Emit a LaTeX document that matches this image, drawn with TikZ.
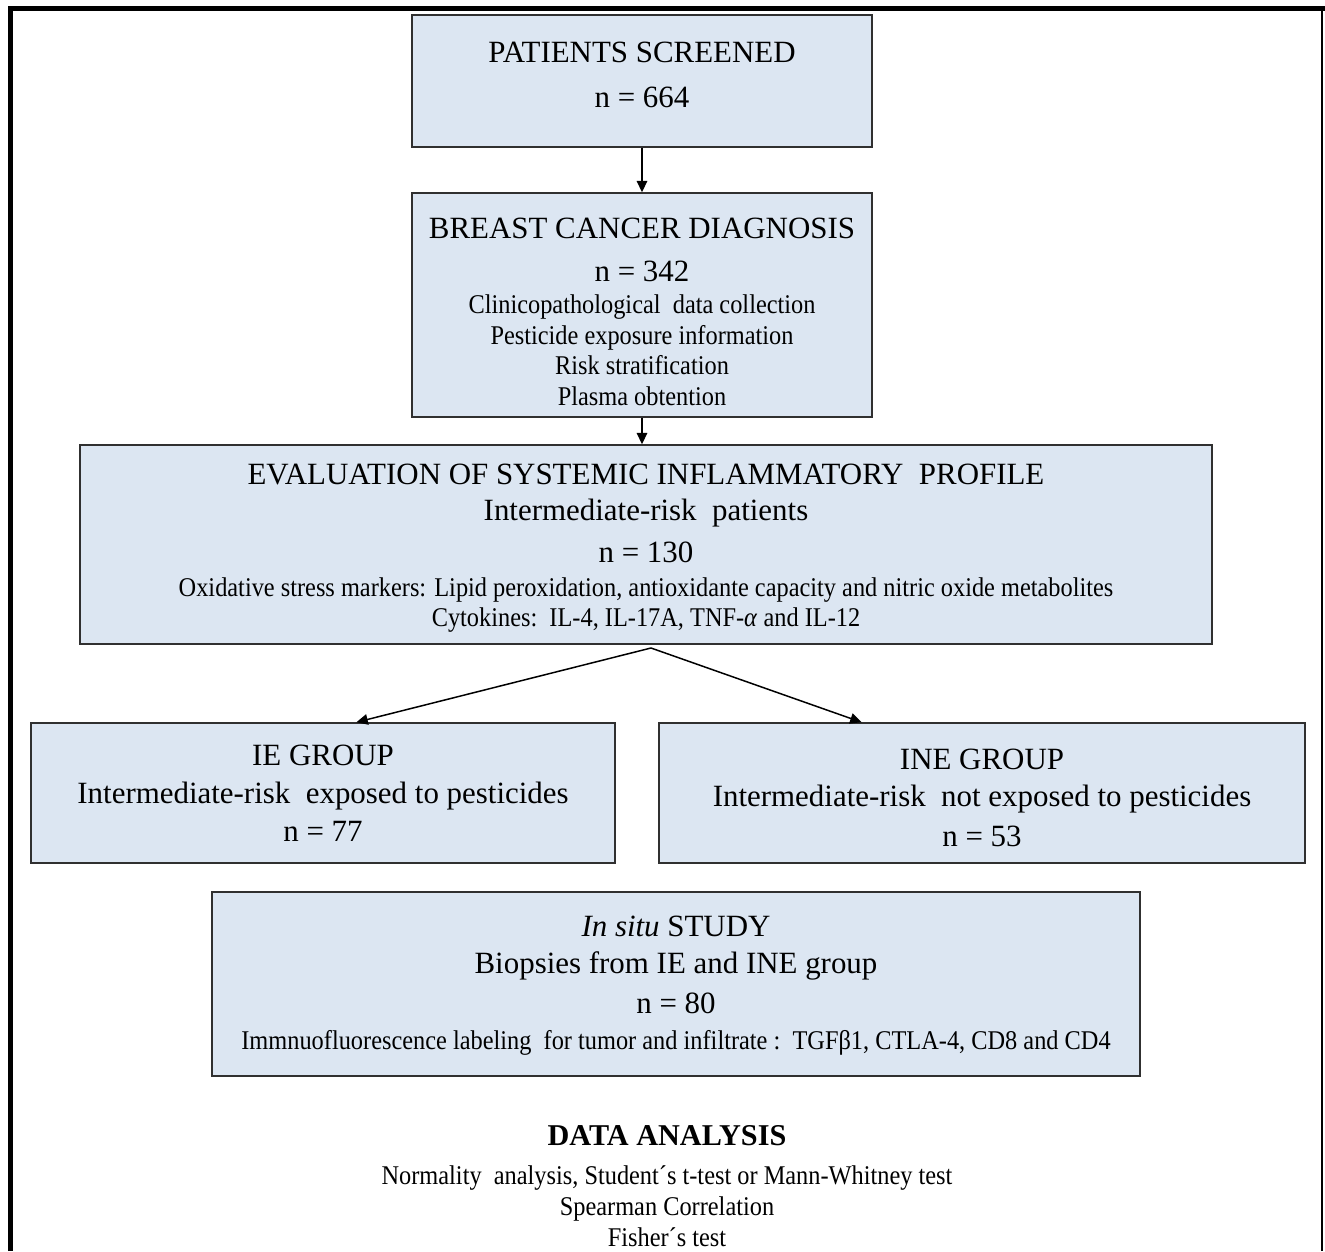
\documentclass[tikz,border=0pt]{standalone}
\usepackage{fontspec}
\setmainfont{Liberation Serif}
\newfontfamily\narrowfont[FakeStretch=0.9]{Liberation Serif}
\usetikzlibrary{calc,arrows.meta}
\definecolor{boxfill}{HTML}{DCE6F2}
\definecolor{boxline}{HTML}{303030}
\newcommand{\bigsize}{\rmfamily\fontsize{17.6}{24}\selectfont}
\newcommand{\smallsize}{\narrowfont\fontsize{15.4}{17.5}\selectfont}

\begin{document}
\begin{tikzpicture}[x=0.02cm, y=-0.02cm,
  >={Triangle[length=6.5pt,width=6pt]},
  stage/.style={draw=boxline, line width=0.85pt, fill=boxfill, rectangle, align=center, inner sep=0pt, font=\smallsize},
  link/.style={draw, line width=0.85pt, ->}]
\useasboundingbox (0,0) rectangle (1325,1251);
\begin{scope}
\node[stage, minimum width=9.2cm, minimum height=2.64cm] (1) at (642,81)
  {{\bigsize PATIENTS SCREENED}\\[8pt] {\bigsize n = 664\rule[-6.8pt]{0pt}{6.8pt}}};
\node[stage, minimum width=9.2cm, minimum height=4.48cm] (2) at (642,305)
  {{\bigsize\rule{0pt}{19.6pt}BREAST CANCER DIAGNOSIS}\\[6.9pt] {\bigsize n = 342}\\[0.6pt]
   Clinicopathological\ \ data collection\\ Pesticide exposure information\\
   Risk stratification\\ Plasma obtention};
\node[stage, minimum width=22.64cm, minimum height=3.98cm] (3) at (646,544.5)
  {{\bigsize\rule{0pt}{15.6pt}EVALUATION OF SYSTEMIC INFLAMMATORY\ \ PROFILE}\\[3.5pt]
   {\bigsize Intermediate-risk\ \ patients}\\[6.3pt] {\bigsize n = 130}\\[1.8pt]
   Oxidative stress markers: Lipid peroxidation, antioxidante capacity and nitric oxide metabolites\\[-0.5pt]
   Cytokines:\ \ IL-4, IL-17A, TNF-\textit{α} and IL-12};
\node[stage, minimum width=11.68cm, minimum height=2.8cm] (4) at (323,793)
  {{\bigsize IE GROUP}\\[4pt] {\bigsize Intermediate-risk\ \ exposed to pesticides}\\[4pt] {\bigsize n = 77}};
\node[stage, minimum width=12.92cm, minimum height=2.8cm] (5) at (982,793)
  {{\bigsize\rule{0pt}{17.3pt}INE GROUP}\\[3.5pt] {\bigsize Intermediate-risk\ \ not exposed to pesticides}\\[5.2pt] {\bigsize n = 53}};
\node[stage, minimum width=18.56cm, minimum height=3.68cm] (6) at (676,984)
  {{\bigsize\rule{0pt}{13.4pt}\textit{In situ} STUDY}\\[3.5pt] {\bigsize Biopsies from IE and INE group}\\[5.2pt]
   {\bigsize n = 80}\\[2.9pt]
   Immnuofluorescence labeling\ \ for tumor and infiltrate :\ \ TGFβ1, CTLA-4, CD8 and CD4};
\node[align=center, font=\smallsize] (7) at (667,1186)
  {{\rmfamily\bfseries\fontsize{17.2}{24}\selectfont DATA ANALYSIS}\\[4.6pt]
   Normality\ \ analysis, Student´s t-test or Mann-Whitney test\\ Spearman Correlation\\ Fisher´s test};
\coordinate (s) at (651,648);
\path[link] (1.south) -- (2.north);
\path[link] (2.south) -- (2.south |- 3.north);
\path[link] (s) -- ($(4.north west)!0.557!(4.north east)$);
\path[link] (s) -- ($(5.north west)!0.314!(5.north east)$);
\draw[line width=0.1cm] (10.5,1251) -- (10.5,8.5) -- (1325,8.5);
\draw[line width=0.04cm] (1322,8.5) -- (1322,1251);
\end{scope}
\end{tikzpicture}
\end{document}
